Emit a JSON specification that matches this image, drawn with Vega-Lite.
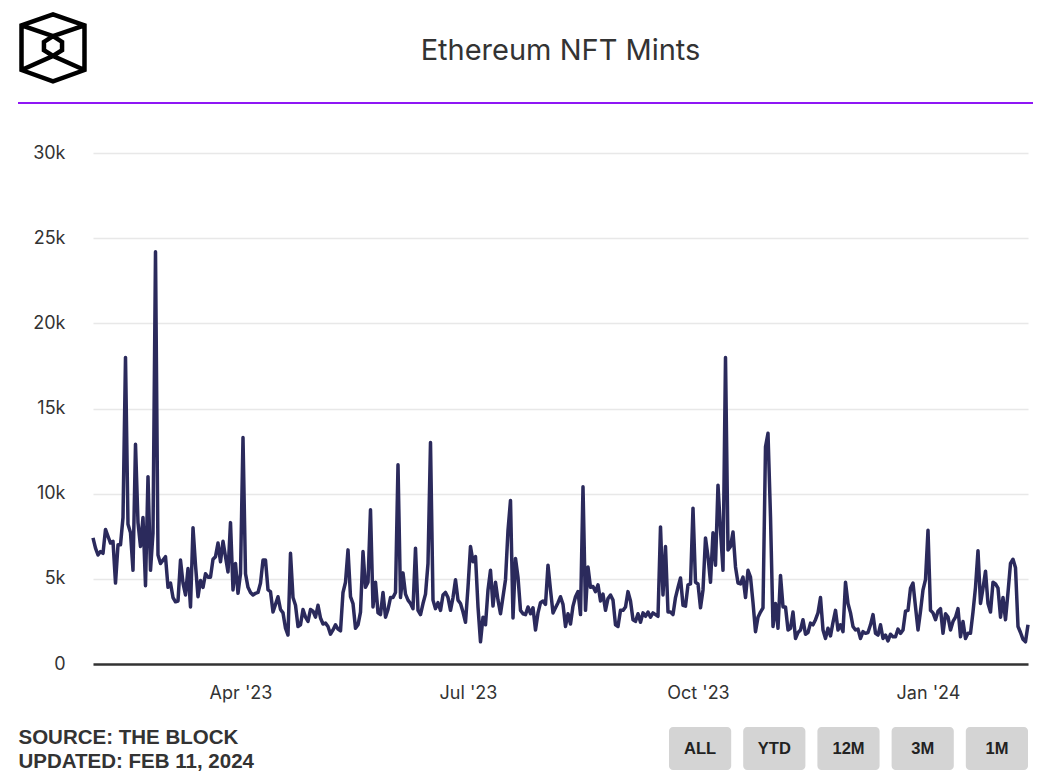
{
"$schema": "https://vega.github.io/schema/vega-lite/v6.json",
"width": 935, "height": 511,
"autosize": {"type": "none"},
"padding": {"left": 93, "top": 153, "right": 22, "bottom": 114},
"background": "#ffffff",
"title": {"text": "Ethereum NFT Mints", "anchor": "middle", "frame": "group", "offset": -61, "fontSize": 29, "font": "Inter", "fontWeight": 400, "color": "#333333"},
"config": {"view": {"stroke": null}, "font": "Inter"},
"datasets": {
"mints": [
{"t":"2023-02-01","v":7400},{"t":"2023-02-02","v":6800},{"t":"2023-02-03","v":6400},{"t":"2023-02-04","v":6600},{"t":"2023-02-05","v":6500},{"t":"2023-02-06","v":7900},{"t":"2023-02-07","v":7500},{"t":"2023-02-08","v":7100},{"t":"2023-02-09","v":7200},{"t":"2023-02-10","v":4750},{"t":"2023-02-11","v":7000},{"t":"2023-02-12","v":7000},{"t":"2023-02-13","v":8600},{"t":"2023-02-14","v":18000},{"t":"2023-02-15","v":8200},{"t":"2023-02-16","v":7700},{"t":"2023-02-17","v":5500},{"t":"2023-02-18","v":12900},{"t":"2023-02-19","v":8300},{"t":"2023-02-20","v":6900},{"t":"2023-02-21","v":8600},{"t":"2023-02-22","v":4600},{"t":"2023-02-23","v":11000},{"t":"2023-02-24","v":5500},{"t":"2023-02-25","v":7700},{"t":"2023-02-26","v":24200},{"t":"2023-02-27","v":6400},{"t":"2023-02-28","v":5900},
{"t":"2023-03-01","v":6100},{"t":"2023-03-02","v":6300},{"t":"2023-03-03","v":4500},{"t":"2023-03-04","v":4750},{"t":"2023-03-05","v":3900},{"t":"2023-03-06","v":3650},{"t":"2023-03-07","v":3700},{"t":"2023-03-08","v":6100},{"t":"2023-03-09","v":4750},{"t":"2023-03-10","v":4050},{"t":"2023-03-11","v":5600},{"t":"2023-03-12","v":3350},{"t":"2023-03-13","v":8000},{"t":"2023-03-14","v":5800},{"t":"2023-03-15","v":3950},{"t":"2023-03-16","v":4900},{"t":"2023-03-17","v":4500},{"t":"2023-03-18","v":5300},{"t":"2023-03-19","v":5100},{"t":"2023-03-20","v":5100},{"t":"2023-03-21","v":6150},{"t":"2023-03-22","v":6300},{"t":"2023-03-23","v":7100},{"t":"2023-03-24","v":6000},{"t":"2023-03-25","v":7200},{"t":"2023-03-26","v":6300},{"t":"2023-03-27","v":5400},{"t":"2023-03-28","v":8300},{"t":"2023-03-29","v":4350},{"t":"2023-03-30","v":5900},{"t":"2023-03-31","v":4150},
{"t":"2023-04-01","v":5300},{"t":"2023-04-02","v":13300},{"t":"2023-04-03","v":5300},{"t":"2023-04-04","v":4500},{"t":"2023-04-05","v":4200},{"t":"2023-04-06","v":4050},{"t":"2023-04-07","v":4150},{"t":"2023-04-08","v":4200},{"t":"2023-04-09","v":4750},{"t":"2023-04-10","v":6100},{"t":"2023-04-11","v":6100},{"t":"2023-04-12","v":4350},{"t":"2023-04-13","v":4250},{"t":"2023-04-14","v":3050},{"t":"2023-04-15","v":3500},{"t":"2023-04-16","v":3950},{"t":"2023-04-17","v":3200},{"t":"2023-04-18","v":3000},{"t":"2023-04-19","v":2100},{"t":"2023-04-20","v":1700},{"t":"2023-04-21","v":6500},{"t":"2023-04-22","v":3900},{"t":"2023-04-23","v":3450},{"t":"2023-04-24","v":2200},{"t":"2023-04-25","v":2300},{"t":"2023-04-26","v":3200},{"t":"2023-04-27","v":2750},{"t":"2023-04-28","v":2500},{"t":"2023-04-29","v":3200},{"t":"2023-04-30","v":3100},
{"t":"2023-05-01","v":2750},{"t":"2023-05-02","v":3450},{"t":"2023-05-03","v":2700},{"t":"2023-05-04","v":2350},{"t":"2023-05-05","v":2400},{"t":"2023-05-06","v":2200},{"t":"2023-05-07","v":1750},{"t":"2023-05-08","v":2000},{"t":"2023-05-09","v":2300},{"t":"2023-05-10","v":2050},{"t":"2023-05-11","v":1950},{"t":"2023-05-12","v":4200},{"t":"2023-05-13","v":4800},{"t":"2023-05-14","v":6700},{"t":"2023-05-15","v":3950},{"t":"2023-05-16","v":3550},{"t":"2023-05-17","v":2100},{"t":"2023-05-18","v":2300},{"t":"2023-05-19","v":3050},{"t":"2023-05-20","v":6600},{"t":"2023-05-21","v":4500},{"t":"2023-05-22","v":4800},{"t":"2023-05-23","v":9050},{"t":"2023-05-24","v":3350},{"t":"2023-05-25","v":4800},{"t":"2023-05-26","v":3000},{"t":"2023-05-27","v":2900},{"t":"2023-05-28","v":4200},{"t":"2023-05-29","v":2750},{"t":"2023-05-30","v":3200},{"t":"2023-05-31","v":3900},
{"t":"2023-06-01","v":3900},{"t":"2023-06-02","v":4200},{"t":"2023-06-03","v":11700},{"t":"2023-06-04","v":3900},{"t":"2023-06-05","v":5350},{"t":"2023-06-06","v":4100},{"t":"2023-06-07","v":3750},{"t":"2023-06-08","v":3550},{"t":"2023-06-09","v":3250},{"t":"2023-06-10","v":6800},{"t":"2023-06-11","v":3150},{"t":"2023-06-12","v":2900},{"t":"2023-06-13","v":3550},{"t":"2023-06-14","v":4100},{"t":"2023-06-15","v":5900},{"t":"2023-06-16","v":13000},{"t":"2023-06-17","v":3750},{"t":"2023-06-18","v":3250},{"t":"2023-06-19","v":3600},{"t":"2023-06-20","v":3150},{"t":"2023-06-21","v":4050},{"t":"2023-06-22","v":4200},{"t":"2023-06-23","v":3900},{"t":"2023-06-24","v":3150},{"t":"2023-06-25","v":3900},{"t":"2023-06-26","v":4950},{"t":"2023-06-27","v":3750},{"t":"2023-06-28","v":3550},{"t":"2023-06-29","v":3050},{"t":"2023-06-30","v":2450},
{"t":"2023-07-01","v":4500},{"t":"2023-07-02","v":6900},{"t":"2023-07-03","v":6000},{"t":"2023-07-04","v":6300},{"t":"2023-07-05","v":3350},{"t":"2023-07-06","v":1300},{"t":"2023-07-07","v":2750},{"t":"2023-07-08","v":2300},{"t":"2023-07-09","v":4350},{"t":"2023-07-10","v":5500},{"t":"2023-07-11","v":3400},{"t":"2023-07-12","v":4800},{"t":"2023-07-13","v":3750},{"t":"2023-07-14","v":2950},{"t":"2023-07-15","v":3950},{"t":"2023-07-16","v":4950},{"t":"2023-07-17","v":7850},{"t":"2023-07-18","v":9600},{"t":"2023-07-19","v":2700},{"t":"2023-07-20","v":6200},{"t":"2023-07-21","v":5100},{"t":"2023-07-22","v":3150},{"t":"2023-07-23","v":2950},{"t":"2023-07-24","v":2900},{"t":"2023-07-25","v":3350},{"t":"2023-07-26","v":2950},{"t":"2023-07-27","v":3300},{"t":"2023-07-28","v":2000},{"t":"2023-07-29","v":3000},{"t":"2023-07-30","v":3600},{"t":"2023-07-31","v":3700},
{"t":"2023-08-01","v":3500},{"t":"2023-08-02","v":5800},{"t":"2023-08-03","v":4350},{"t":"2023-08-04","v":3000},{"t":"2023-08-05","v":3300},{"t":"2023-08-06","v":3600},{"t":"2023-08-07","v":3950},{"t":"2023-08-08","v":3500},{"t":"2023-08-09","v":2200},{"t":"2023-08-10","v":2950},{"t":"2023-08-11","v":2350},{"t":"2023-08-12","v":3400},{"t":"2023-08-13","v":3950},{"t":"2023-08-14","v":4250},{"t":"2023-08-15","v":2900},{"t":"2023-08-16","v":10400},{"t":"2023-08-17","v":3150},{"t":"2023-08-18","v":5700},{"t":"2023-08-19","v":4500},{"t":"2023-08-20","v":4550},{"t":"2023-08-21","v":4250},{"t":"2023-08-22","v":4650},{"t":"2023-08-23","v":3700},{"t":"2023-08-24","v":4100},{"t":"2023-08-25","v":3150},{"t":"2023-08-26","v":3850},{"t":"2023-08-27","v":4050},{"t":"2023-08-28","v":3750},{"t":"2023-08-29","v":2300},{"t":"2023-08-30","v":2200},{"t":"2023-08-31","v":3150},
{"t":"2023-09-01","v":3150},{"t":"2023-09-02","v":3350},{"t":"2023-09-03","v":4250},{"t":"2023-09-04","v":3700},{"t":"2023-09-05","v":2600},{"t":"2023-09-06","v":2500},{"t":"2023-09-07","v":2950},{"t":"2023-09-08","v":2450},{"t":"2023-09-09","v":3000},{"t":"2023-09-10","v":2800},{"t":"2023-09-11","v":3050},{"t":"2023-09-12","v":2750},{"t":"2023-09-13","v":3000},{"t":"2023-09-14","v":2900},{"t":"2023-09-15","v":2800},{"t":"2023-09-16","v":8050},{"t":"2023-09-17","v":4050},{"t":"2023-09-18","v":6900},{"t":"2023-09-19","v":3050},{"t":"2023-09-20","v":3050},{"t":"2023-09-21","v":2900},{"t":"2023-09-22","v":3900},{"t":"2023-09-23","v":4500},{"t":"2023-09-24","v":5050},{"t":"2023-09-25","v":3450},{"t":"2023-09-26","v":3400},{"t":"2023-09-27","v":4650},{"t":"2023-09-28","v":4700},{"t":"2023-09-29","v":9150},{"t":"2023-09-30","v":4800},
{"t":"2023-10-01","v":4700},{"t":"2023-10-02","v":3300},{"t":"2023-10-03","v":4350},{"t":"2023-10-04","v":7400},{"t":"2023-10-05","v":6300},{"t":"2023-10-06","v":4800},{"t":"2023-10-07","v":7700},{"t":"2023-10-08","v":5800},{"t":"2023-10-09","v":10500},{"t":"2023-10-10","v":7850},{"t":"2023-10-11","v":5500},{"t":"2023-10-12","v":18000},{"t":"2023-10-13","v":6700},{"t":"2023-10-14","v":6900},{"t":"2023-10-15","v":7750},{"t":"2023-10-16","v":5700},{"t":"2023-10-17","v":4750},{"t":"2023-10-18","v":4700},{"t":"2023-10-19","v":5100},{"t":"2023-10-20","v":3900},{"t":"2023-10-21","v":5500},{"t":"2023-10-22","v":5100},{"t":"2023-10-23","v":3600},{"t":"2023-10-24","v":1900},{"t":"2023-10-25","v":2750},{"t":"2023-10-26","v":3050},{"t":"2023-10-27","v":3300},{"t":"2023-10-28","v":12750},{"t":"2023-10-29","v":13550},{"t":"2023-10-30","v":8650},{"t":"2023-10-31","v":2200},
{"t":"2023-11-01","v":3550},{"t":"2023-11-02","v":2100},{"t":"2023-11-03","v":5200},{"t":"2023-11-04","v":3350},{"t":"2023-11-05","v":3350},{"t":"2023-11-06","v":2000},{"t":"2023-11-07","v":2100},{"t":"2023-11-08","v":3050},{"t":"2023-11-09","v":1500},{"t":"2023-11-10","v":1850},{"t":"2023-11-11","v":2000},{"t":"2023-11-12","v":2600},{"t":"2023-11-13","v":1750},{"t":"2023-11-14","v":1850},{"t":"2023-11-15","v":2400},{"t":"2023-11-16","v":2300},{"t":"2023-11-17","v":2600},{"t":"2023-11-18","v":3000},{"t":"2023-11-19","v":3900},{"t":"2023-11-20","v":2000},{"t":"2023-11-21","v":1500},{"t":"2023-11-22","v":2100},{"t":"2023-11-23","v":1650},{"t":"2023-11-24","v":2450},{"t":"2023-11-25","v":3150},{"t":"2023-11-26","v":2000},{"t":"2023-11-27","v":2300},{"t":"2023-11-28","v":1900},{"t":"2023-11-29","v":4800},{"t":"2023-11-30","v":3550},
{"t":"2023-12-01","v":3000},{"t":"2023-12-02","v":2200},{"t":"2023-12-03","v":2000},{"t":"2023-12-04","v":2050},{"t":"2023-12-05","v":1500},{"t":"2023-12-06","v":1900},{"t":"2023-12-07","v":1800},{"t":"2023-12-08","v":1850},{"t":"2023-12-09","v":2300},{"t":"2023-12-10","v":2900},{"t":"2023-12-11","v":1800},{"t":"2023-12-12","v":1700},{"t":"2023-12-13","v":2300},{"t":"2023-12-14","v":1500},{"t":"2023-12-15","v":1700},{"t":"2023-12-16","v":1350},{"t":"2023-12-17","v":1750},{"t":"2023-12-18","v":1600},{"t":"2023-12-19","v":1600},{"t":"2023-12-20","v":2050},{"t":"2023-12-21","v":1800},{"t":"2023-12-22","v":2000},{"t":"2023-12-23","v":3100},{"t":"2023-12-24","v":3150},{"t":"2023-12-25","v":4450},{"t":"2023-12-26","v":4750},{"t":"2023-12-27","v":3350},{"t":"2023-12-28","v":2000},{"t":"2023-12-29","v":3100},{"t":"2023-12-30","v":4350},{"t":"2023-12-31","v":4950},
{"t":"2024-01-01","v":7850},{"t":"2024-01-02","v":3150},{"t":"2024-01-03","v":3000},{"t":"2024-01-04","v":2600},{"t":"2024-01-05","v":3100},{"t":"2024-01-06","v":3250},{"t":"2024-01-07","v":1800},{"t":"2024-01-08","v":2950},{"t":"2024-01-09","v":2750},{"t":"2024-01-10","v":2000},{"t":"2024-01-11","v":2500},{"t":"2024-01-12","v":2750},{"t":"2024-01-13","v":3250},{"t":"2024-01-14","v":1600},{"t":"2024-01-15","v":2500},{"t":"2024-01-16","v":1500},{"t":"2024-01-17","v":1800},{"t":"2024-01-18","v":1800},{"t":"2024-01-19","v":3050},{"t":"2024-01-20","v":4500},{"t":"2024-01-21","v":6650},{"t":"2024-01-22","v":3550},{"t":"2024-01-23","v":4450},{"t":"2024-01-24","v":5450},{"t":"2024-01-25","v":3550},{"t":"2024-01-26","v":3050},{"t":"2024-01-27","v":4800},{"t":"2024-01-28","v":4700},{"t":"2024-01-29","v":4450},{"t":"2024-01-30","v":2750},{"t":"2024-01-31","v":3900},
{"t":"2024-02-01","v":2600},{"t":"2024-02-02","v":4200},{"t":"2024-02-03","v":5900},{"t":"2024-02-04","v":6150},{"t":"2024-02-05","v":5650},{"t":"2024-02-06","v":2200},{"t":"2024-02-07","v":1850},{"t":"2024-02-08","v":1450},{"t":"2024-02-09","v":1300},{"t":"2024-02-10","v":2300}
],
"buttons": [{"b":"ALL"},{"b":"YTD"},{"b":"12M"},{"b":"3M"},{"b":"1M"}]
},
"layer": [
{"layer": [
{"data": {"name": "mints"},
 "mark": {"type": "line", "color": "#2b2a5c", "strokeWidth": 3.5, "strokeJoin": "round"},
 "encoding": {
  "x": {"field": "t", "type": "temporal",
        "scale": {"type": "utc", "nice": false, "domain": [{"year": 2023, "month": 2, "date": 1, "utc": true}, {"year": 2024, "month": 2, "date": 10, "utc": true}]},
        "axis": {"values": [{"year": 2023, "month": 4, "date": 1, "utc": true}, {"year": 2023, "month": 7, "date": 1, "utc": true}, {"year": 2023, "month": 10, "date": 1, "utc": true}, {"year": 2024, "month": 1, "date": 1, "utc": true}],
                 "labelExpr": "utcFormat(datum.value, \"%b '%y\")", "labelFontSize": 18, "labelColor": "#333333", "labelPadding": 20, "labelFont": "Inter",
                 "ticks": false, "grid": false, "domainColor": "#333333", "domainWidth": 2.5, "labelOverlap": false, "labelFlush": false,
                 "title": ["SOURCE: THE BLOCK", "UPDATED: FEB 11, 2024"], "titleX": -75, "titleY": 63, "titleAlign": "left", "titleBaseline": "top", "titleAngle": 0,
                 "titleFontSize": 20.5, "titleFontWeight": "bold", "titleColor": "#333333", "titleFont": "Liberation Sans", "titleLineHeight": 24}},
  "y": {"field": "v", "type": "quantitative",
        "scale": {"domain": [0, 30000], "nice": false},
        "axis": {"values": [0, 5000, 10000, 15000, 20000, 25000, 30000], "labelExpr": "datum.value == 0 ? '0' : (datum.value / 1000) + 'k'",
                 "labelFontSize": 18, "labelColor": "#333333", "labelPadding": 28, "labelFont": "Inter", "ticks": false, "domain": false,
                 "gridColor": "#e8e8e8", "gridWidth": 1.5, "title": null}}
 }},
{"data": {"values": [{}]},
 "mark": {"type": "rule", "color": "#8f17f5", "strokeWidth": 2},
 "encoding": {
  "x": {"datum": {"year": 2023, "month": 1, "date": 2, "utc": true}, "type": "temporal"},
  "x2": {"datum": {"year": 2024, "month": 2, "date": 12, "utc": true}},
  "y": {"datum": 32940, "type": "quantitative"}
 }},
{"data": {"values": [{}]},
 "mark": {"type": "point", "filled": false, "stroke": "#000000", "strokeWidth": 4.5, "strokeJoin": "miter", "opacity": 1, "size": 4489,
          "shape": "M0,-1L0.94,-0.67L0.94,0.66L0,1L-0.94,0.66L-0.94,-0.67Z M-0.94,-0.67L0,-0.35L0.94,-0.67 M0,-0.35L0.27,-0.18L0.27,0.07L0,0.24L-0.27,0.07L-0.27,-0.18Z M-0.94,0.66L0,0.24L0.94,0.66"},
 "encoding": {
  "x": {"datum": {"year": 2023, "month": 1, "date": 16, "utc": true}, "type": "temporal"},
  "y": {"datum": 36170, "type": "quantitative"}
 }}
]},
{"data": {"name": "buttons"},
 "layer": [
 {"mark": {"type": "rect", "fill": "#d4d4d4", "cornerRadius": 4},
  "encoding": {
   "x": {"field": "b", "type": "nominal", "sort": null, "scale": {"type": "band", "range": [576, 935], "paddingInner": 0.162, "paddingOuter": 0}, "axis": null},
   "y": {"datum": -3700, "type": "quantitative"},
   "y2": {"datum": -6230}
  }},
 {"mark": {"type": "text", "font": "Liberation Sans", "fontWeight": "bold", "fontSize": 16.5, "color": "#222222", "baseline": "middle", "align": "center"},
  "encoding": {
   "x": {"field": "b", "type": "nominal", "sort": null, "axis": null},
   "y": {"datum": -4990, "type": "quantitative"},
   "text": {"field": "b"}
  }}
 ]}
],
"resolve": {"scale": {"x": "independent"}, "axis": {"x": "independent"}}
}
